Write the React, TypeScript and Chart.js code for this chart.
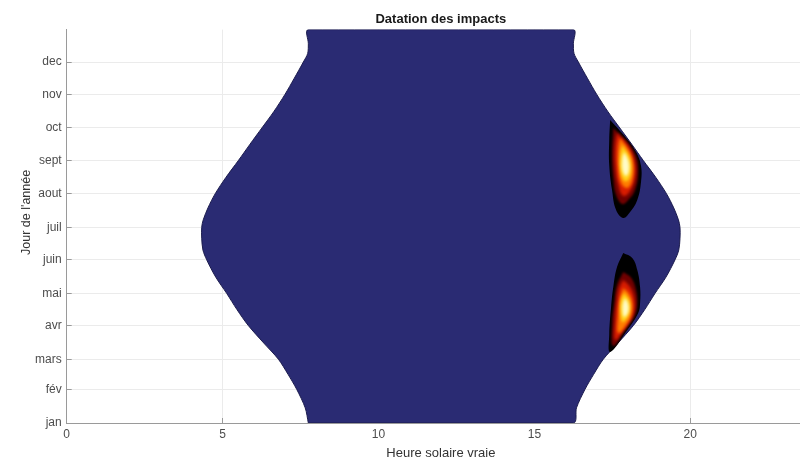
import React, { useEffect, useRef } from 'react';
import { Chart, registerables } from 'chart.js';

// ---- axis ticks ----
const monthDays = [1, 32, 60, 91, 121, 152, 182, 213, 244, 274, 305, 335];
const monthLabels = ['jan', 'fév', 'mars', 'avr', 'mai', 'juin', 'juil', 'aout', 'sept', 'oct', 'nov', 'dec'];
const hourTicks = [0, 5, 10, 15, 20];

// ---- day region (sunrise / sunset in true solar time) ----
const boundaryDays = [1, 15, 32, 46, 60, 75, 91, 106, 121, 136, 152, 161, 172, 182, 189, 200, 213, 228, 244, 259, 274, 289, 305, 320, 335, 343, 352, 365];
const sunrise = [7.75, 7.65, 7.38, 7.1, 6.79, 6.32, 5.83, 5.46, 5.13, 4.78, 4.49, 4.37, 4.33, 4.33, 4.38, 4.53, 4.76, 5.1, 5.51, 5.88, 6.26, 6.64, 7.0, 7.3, 7.59, 7.73, 7.75, 7.75];
const sunset = [16.25, 16.35, 16.62, 16.9, 17.21, 17.68, 18.17, 18.54, 18.87, 19.22, 19.51, 19.63, 19.67, 19.67, 19.62, 19.47, 19.24, 18.9, 18.49, 18.12, 17.74, 17.36, 17.0, 16.7, 16.41, 16.27, 16.25, 16.25];

// ---- impact density levels (outer -> inner), [hour, day] contour points ----
const heatColors = ['#000000', '#6e0000', '#d81c00', '#ff7d00', '#ffd319', '#fffbc8'];
const heatBlur = [0, 1, 1.5, 1.5, 1.5, 1.5];

const upperImpact = [
  [[17.43, 281.3], [17.94, 264.7], [18.26, 251.7], [18.42, 238.8], [18.42, 224.0], [18.3, 207.3], [18.07, 196.2], [17.85, 190.7], [17.62, 198.1], [17.49, 216.6], [17.4, 239.7], [17.4, 262.8]],
  [[17.53, 273.9], [17.98, 261.0], [18.26, 248.0], [18.33, 233.2], [18.23, 216.6], [18.01, 207.3], [17.82, 203.6], [17.62, 212.0], [17.53, 227.7], [17.49, 249.0]],
  [[17.65, 269.3], [18.01, 257.3], [18.2, 244.3], [18.23, 229.5], [18.07, 215.6], [17.85, 211.0], [17.69, 221.2], [17.59, 239.7], [17.59, 258.2]],
  [[17.75, 264.7], [18.04, 252.7], [18.17, 241.6], [18.14, 225.8], [17.98, 218.4], [17.78, 223.0], [17.69, 239.7], [17.69, 255.4]],
  [[17.82, 258.2], [18.04, 248.0], [18.11, 236.9], [18.04, 226.8], [17.88, 225.0], [17.75, 235.1], [17.75, 249.0]],
  [[17.88, 251.7], [18.01, 244.3], [18.04, 235.1], [17.94, 229.6], [17.82, 235.1], [17.82, 246.2]],
];

const lowerImpact = [
  [[17.85, 158.3], [18.14, 153.7], [18.3, 142.6], [18.39, 126.8], [18.39, 112.0], [18.33, 102.8], [17.98, 87.0], [17.43, 66.7], [17.4, 82.4], [17.46, 108.3], [17.53, 126.8], [17.65, 145.3]],
  [[17.85, 140.7], [18.11, 135.2], [18.26, 124.1], [18.3, 112.0], [18.23, 100.9], [17.94, 88.9], [17.53, 72.2], [17.49, 91.7], [17.56, 112.0], [17.65, 128.7]],
  [[17.85, 133.3], [18.07, 126.8], [18.2, 116.7], [18.2, 105.6], [18.07, 95.4], [17.82, 85.2], [17.59, 77.8], [17.59, 96.3], [17.65, 114.8], [17.72, 125.9]],
  [[17.85, 125.9], [18.04, 120.4], [18.14, 111.1], [18.11, 100.9], [17.94, 91.7], [17.69, 84.3], [17.69, 101.9], [17.75, 116.7]],
  [[17.88, 121.3], [18.04, 114.8], [18.07, 106.5], [17.98, 98.2], [17.82, 94.5], [17.75, 106.5], [17.78, 115.7]],
  [[17.91, 116.7], [18.01, 111.1], [18.01, 103.7], [17.88, 99.1], [17.82, 106.5], [17.85, 113.0]],
];

const blurPlugin = {
  id: 'heatBlur',
  beforeDatasetDraw(chart: any, args: any) {
    const ds = chart.data.datasets[args.index];
    chart.ctx.save();
    if (ds && ds.blurPx) chart.ctx.filter = `blur(${ds.blurPx}px)`;
  },
  afterDatasetDraw(chart: any) {
    chart.ctx.restore();
  },
};

Chart.register(blurPlugin, ...registerables);
Chart.defaults.font.family = '"Liberation Sans", Arial, Helvetica, sans-serif';

export default function App() {
  const ref = useRef<HTMLCanvasElement>(null);

  useEffect(() => {
    const canvas = ref.current!;
    const datasets: any[] = [];
    for (let k = heatColors.length - 1; k >= 0; k--) {
      for (const blob of [upperImpact, lowerImpact]) {
        const pts = blob[k].map(([h, d]) => ({ x: h, y: d }));
        pts.push(pts[0]);
        datasets.push({
          data: pts,
          xAxisID: 'x',
          yAxisID: 'y',
          fill: 'shape',
          backgroundColor: heatColors[k],
          borderColor: heatColors[k],
          borderWidth: 0,
          pointRadius: 0,
          tension: 0.4,
          blurPx: heatBlur[k],
        });
      }
    }
    const region = [
      ...boundaryDays.map((d, i) => ({ x: sunrise[i], y: d })),
      ...boundaryDays.map((d, i) => ({ x: sunset[i], y: d })).reverse(),
    ];
    region.push(region[0]);
    datasets.push({
      data: region,
      xAxisID: 'x',
      yAxisID: 'y',
      fill: 'shape',
      backgroundColor: '#2a2b73',
      borderColor: '#1c1c4e',
      borderWidth: 1,
      pointRadius: 0,
      tension: 0.3,
    });

    const tickFont = { size: 12 };
    const chart = new Chart(canvas, {
      type: 'line',
      data: { datasets },
      options: {
        animation: false,
        responsive: false,
        devicePixelRatio: 1,
        events: [],
        layout: { padding: { left: 0, right: 15, top: 0, bottom: 0 } },
        plugins: {
          legend: { display: false },
          tooltip: { enabled: false },
          title: { display: false },
        },
        scales: {
          x: {
            type: 'linear',
            position: 'bottom',
            min: 0,
            max: 24,
            afterBuildTicks: (s: any) => {
              s.ticks = hourTicks.map((v) => ({ value: v }));
            },
            afterFit: (s: any) => {
              s.height = 38;
            },
            grid: { color: '#ebebeb', drawTicks: true, tickLength: -5, tickColor: '#9a9a9a' },
            border: { display: true, color: '#9a9a9a', z: 1 },
            ticks: { padding: 9, font: tickFont, color: '#4d4d4d', maxRotation: 0, autoSkip: false },
            title: { display: true, text: 'Heure solaire vraie', font: { size: 13 }, color: '#333333', padding: { top: 0, bottom: 0 } },
          },
          top: {
            type: 'linear',
            position: 'top',
            min: 0,
            max: 24,
            afterFit: (s: any) => {
              s.height = 29.6;
            },
            grid: { display: false },
            border: { display: false },
            ticks: { display: false },
            title: { display: true, text: 'Datation des impacts', font: { size: 13, weight: 'bold' }, color: '#1a1a1a', padding: { top: 11.2, bottom: 0 } },
          },
          y: {
            type: 'linear',
            position: 'left',
            min: 1,
            max: 365,
            afterBuildTicks: (s: any) => {
              s.ticks = monthDays.map((v) => ({ value: v }));
            },
            afterFit: (s: any) => {
              s.width = 66.7;
            },
            grid: { color: '#ebebeb', drawTicks: true, tickLength: -5, tickColor: '#9a9a9a' },
            border: { display: true, color: '#9a9a9a', z: 1 },
            ticks: {
              padding: 10,
              font: tickFont,
              color: '#4d4d4d',
              autoSkip: false,
              callback: (v: any) => {
                const i = monthDays.indexOf(Number(v));
                return i >= 0 ? monthLabels[i] : '';
              },
            },
            title: { display: true, text: "        Jour de l'année", font: { size: 12.5 }, color: '#333333', padding: { top: 19, bottom: 0 } },
          },
        },
      } as any,
    });
    return () => chart.destroy();
  }, []);

  return (
    <div style={{ position: 'fixed', left: 0, top: 0, width: 800, height: 461, overflow: 'hidden', background: '#ffffff' }}>
      <canvas ref={ref} width={830} height={461} style={{ display: 'block', width: 830, height: 461 }} />
    </div>
  );
}
